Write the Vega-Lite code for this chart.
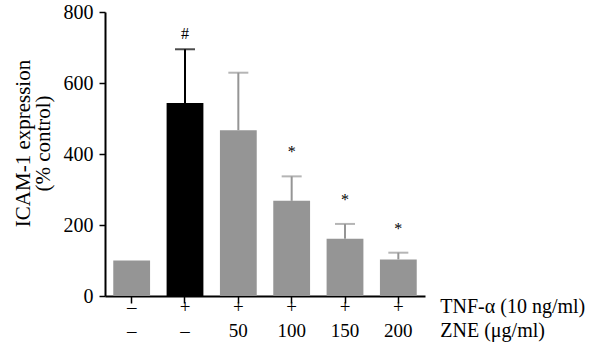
{
  "$schema": "https://vega.github.io/schema/vega-lite/v6.json",
  "width": 320,
  "height": 284,
  "autosize": "none",
  "padding": {"left": 105, "top": 12, "right": 175, "bottom": 68},
  "background": "white",
  "config": {
    "view": {"stroke": null},
    "font": "Liberation Serif",
    "axis": {
      "labelFont": "Liberation Serif",
      "titleFont": "Liberation Serif",
      "labelColor": "#000000",
      "titleColor": "#000000",
      "domainColor": "#000000",
      "tickColor": "#000000",
      "domainWidth": 2,
      "tickWidth": 1.5,
      "grid": false
    }
  },
  "data": {
    "values": [
      {"cat": "c1", "tnf": "–", "zne": "–", "group": "ctrl", "mean": 100},
      {"cat": "c2", "tnf": "+", "zne": "–", "group": "tnf", "mean": 544, "upper": 695, "sig": "#"},
      {"cat": "c3", "tnf": "+", "zne": "50", "group": "zne", "mean": 467, "upper": 629},
      {"cat": "c4", "tnf": "+", "zne": "100", "group": "zne", "mean": 268, "upper": 337, "sig": "*"},
      {"cat": "c5", "tnf": "+", "zne": "150", "group": "zne", "mean": 161, "upper": 203, "sig": "*"},
      {"cat": "c6", "tnf": "+", "zne": "200", "group": "zne", "mean": 103, "upper": 122, "sig": "*"}
    ]
  },
  "encoding": {
    "x": {
      "field": "cat",
      "type": "nominal",
      "scale": {"domain": ["c1", "c2", "c3", "c4", "c5", "c6"], "paddingInner": 0.31, "paddingOuter": 0.155},
      "axis": {
        "title": null,
        "labels": false,
        "tickSize": 7
      }
    }
  },
  "layer": [
    {
      "transform": [{"filter": "isValid(datum.upper)"}],
      "mark": {"type": "rule", "strokeWidth": 2},
      "encoding": {
        "y": {"field": "mean", "type": "quantitative"},
        "y2": {"field": "upper"},
        "color": {"field": "group", "type": "nominal", "scale": {"domain": ["ctrl", "tnf", "zne"], "range": ["#959595", "#000000", "#959595"]}, "legend": null}
      }
    },
    {
      "transform": [{"filter": "isValid(datum.upper)"}],
      "mark": {"type": "tick", "thickness": 2, "size": 20},
      "encoding": {
        "y": {"field": "upper", "type": "quantitative"},
        "color": {"field": "group", "type": "nominal", "legend": null}
      }
    },
    {
      "mark": {"type": "bar"},
      "encoding": {
        "y": {
          "field": "mean",
          "type": "quantitative",
          "scale": {"domain": [0, 800]},
          "axis": {
            "title": ["ICAM-1 expression", "(% control)"],
            "titleFontSize": 21,
            "titleFontWeight": "normal",
            "titleLineHeight": 20,
            "titlePadding": 10,
            "titleY": 131,
            "values": [0, 200, 400, 600, 800],
            "labelFontSize": 20,
            "labelPadding": 6,
            "tickSize": 6
          }
        },
        "color": {"field": "group", "type": "nominal", "legend": null}
      }
    },
    {
      "transform": [{"filter": "datum.sig == '#'"}],
      "mark": {"type": "text", "fontSize": 16, "baseline": "alphabetic", "dy": -10, "color": "#000000"},
      "encoding": {
        "y": {"field": "upper", "type": "quantitative"},
        "text": {"field": "sig"}
      }
    },
    {
      "transform": [{"filter": "datum.sig == '*'"}],
      "mark": {"type": "text", "fontSize": 16, "baseline": "alphabetic", "dy": -19, "color": "#000000"},
      "encoding": {
        "y": {"field": "upper", "type": "quantitative"},
        "text": {"field": "sig"}
      }
    },
    {
      "mark": {"type": "text", "fontSize": 19, "baseline": "alphabetic", "dy": 17, "color": "#000000"},
      "encoding": {
        "y": {"datum": 0},
        "text": {"field": "tnf"}
      }
    },
    {
      "mark": {"type": "text", "fontSize": 19, "baseline": "alphabetic", "dy": 41, "color": "#000000"},
      "encoding": {
        "y": {"datum": 0},
        "text": {"field": "zne"}
      }
    },
    {
      "data": {"values": [{"rowlabels": "TNF-α (10 ng/ml)|ZNE (μg/ml)"}]},
      "mark": {"type": "text", "fontSize": 20, "align": "left", "baseline": "alphabetic", "lineBreak": "|", "lineHeight": 24, "dx": 42, "dy": 17, "color": "#000000"},
      "encoding": {
        "x": {"datum": "c6"},
        "y": {"datum": 0},
        "text": {"field": "rowlabels"}
      }
    }
  ]
}
